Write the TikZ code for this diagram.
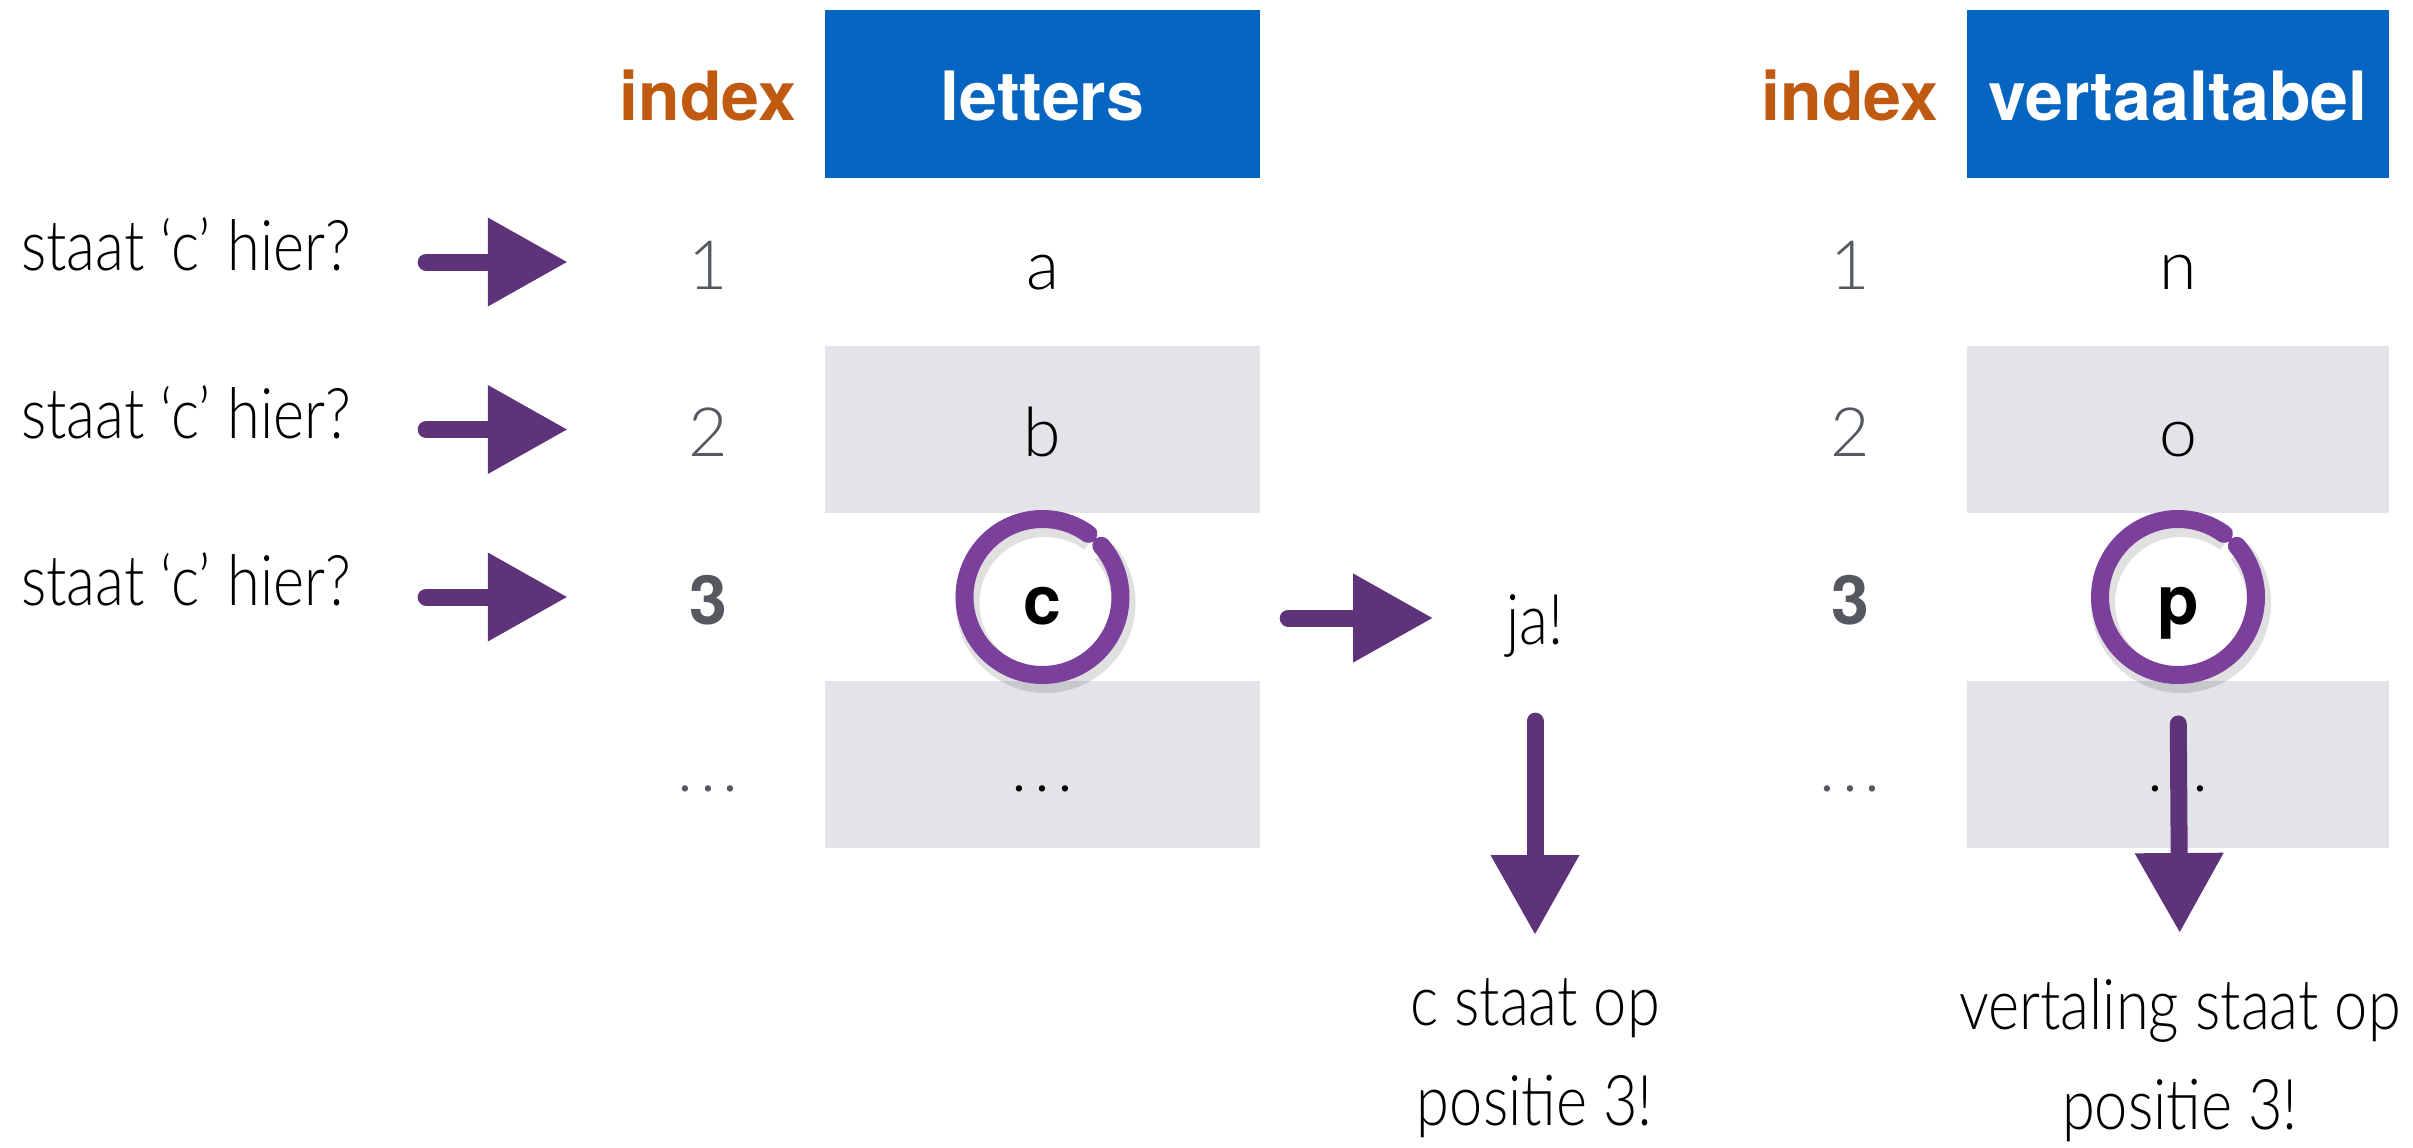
\documentclass[tikz,border=0pt]{standalone}
\usepackage{fontspec}
\setmainfont{TeX Gyre Heros}
\newfontfamily\lightfont{Lato Light}
\newfontfamily\handfont{Lato Light}[FakeStretch=0.85]
\usetikzlibrary{arrows.meta}

\definecolor{hdrblue}{RGB}{5,101,192}
\definecolor{idxorange}{RGB}{192,90,16}
\definecolor{rowgray}{RGB}{227,228,232}
\definecolor{numgray}{RGB}{84,89,96}
\definecolor{arrowpurple}{RGB}{94,51,122}
\definecolor{ringpurple}{RGB}{122,64,155}

\newcommand{\moredots}{.\kern7pt.\kern7pt.}

\begin{document}
\begin{tikzpicture}[x=1pt,y=-1pt,
        every node/.style={inner sep=0pt},
        cell/.style={minimum width=435pt,minimum height=167.5pt,text height=54pt,text depth=0pt,
            font=\fontsize{68}{68}\lightfont},
        idx/.style={cell,minimum width=120pt,text=numgray},
        head/.style={cell,minimum height=168pt,fill=hdrblue,text=white,font=\fontsize{68}{68}\selectfont\bfseries},
        note/.style={font=\fontsize{70}{100}\handfont,align=center},
        brush/.style={draw=arrowpurple,line width=17pt,line cap=round,-{Triangle[length=80pt,width=84pt]}},
        ring/.style={draw=ringpurple,line width=18pt,line cap=round}]
    \fill[white] (0,0) rectangle (2413,1148);

    % headers
    \node[idx,text=idxorange,font=\fontsize{68}{68}\selectfont\bfseries] (i0) at (708,94) {index};
    \node[head] (l0) at (1042.5,94) {letters};
    \node[idx,text=idxorange,font=\fontsize{68}{68}\selectfont\bfseries] (j0) at (1850,94) {index};
    \node[head,minimum width=422pt] (t0) at (2178,94) {vertaaltabel};

    % rows of both tables
    \foreach \r/\y/\bg/\n/\a/\b in {1/262/white/1/a/n, 2/429.5/rowgray/2/b/o,
            3/597/white/{\rmfamily\bfseries 3}/{\rmfamily\bfseries c}/{\rmfamily\bfseries p},
            4/764.5/rowgray/\moredots/\moredots/\moredots} {
        \node[idx] (i\r) at (708,\y) {\n};
        \node[cell,fill=\bg] (l\r) at (1042.5,\y) {\a};
        \node[idx] (j\r) at (1850,\y) {\n};
        \node[cell,fill=\bg,minimum width=422pt] (t\r) at (2178,\y) {\b};
    }

    % circled hits
    \foreach \c in {l3,t3} {
        \draw[black,opacity=.12,line width=24pt] ([shift={(54:78pt)},xshift=3pt,yshift=-6pt]\c.center)
            arc[start angle=54,end angle=401,radius=78pt];
        \draw[ring] ([shift={(54:78pt)}]\c.center) arc[start angle=54,end angle=401,radius=78pt];
    }

    % the questions
    \foreach \r/\y in {1/270,2/438,3/605} {
        \node[note,anchor=base west] (q\r) at (21,\y) {staat ‘c’ hier?};
        \draw[brush,shorten <=75pt,shorten >=80pt] (q\r.east |- i\r.west) -- (i\r.west);
    }

    \node[note,anchor=base] (ja) at (1535,644) {ja!};
    \node[note,anchor=north] (pos1) at (1535,978) {c staat op\\positie 3!};
    \node[note,anchor=north] (pos2) at (2180,978) {vertaling staat op\\positie 3!};

    \coordinate (c3) at ([yshift=-21pt]l3.east);
    \draw[brush,shorten <=28pt,shorten >=73pt] (c3) -- (c3 -| ja.west);
    \draw[brush,shorten <=64pt,shorten >=43pt] (ja.south) -- (pos1.north);
    \draw[brush,shorten <=43pt,shorten >=45pt] (t3.south) -- (pos2.north);
\end{tikzpicture}
\end{document}
